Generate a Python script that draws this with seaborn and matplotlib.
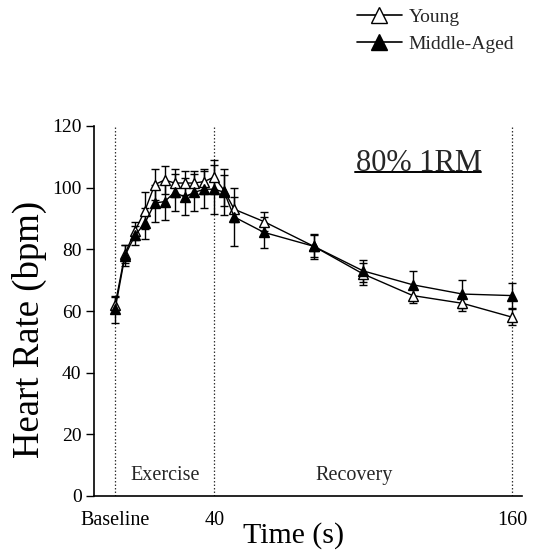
import matplotlib
matplotlib.use("Agg")
import matplotlib.pyplot as plt
from matplotlib.lines import Line2D
import seaborn as sns
import pandas as pd

# Sampling times (s): baseline, exercise every 4 s, then recovery
time_s = [0, 4, 8, 12, 16, 20, 24, 28, 32, 36, 40, 44, 48, 60, 80, 100, 120, 140, 160]

young_hr = [62, 78.5, 86, 92.5, 101, 102.5, 101.5, 101.5, 101.5, 102, 103.5,
            99, 93, 89, 81, 72, 65, 62.5, 58]
young_sd = [2.5, 3, 3, 6, 5, 4.5, 4.5, 4, 4, 4, 5.5,
            5, 4, 3, 3.5, 3.5, 2.5, 2.5, 2.5]

middle_hr = [60.5, 78, 84.5, 88.5, 95, 95.5, 98.5, 97, 98.5, 99.5, 99.5,
             98.5, 90.5, 85.5, 81, 73, 68.5, 65.5, 65]
middle_sd = [4.5, 3.5, 3, 5, 6, 6, 6, 6, 6, 6, 8,
             7.5, 9.5, 5, 4, 3.5, 4.5, 4.5, 4]

group_names = ["Young", "Middle-Aged"]
phase_names = ["Exercise", "Recovery"]
tick_values = [0, 40, 160]
tick_labels = ["Baseline", "40", "160"]
y_ticks = [0, 20, 40, 60, 80, 100, 120]

df = pd.DataFrame({
    "time": time_s * 2,
    "hr": young_hr + middle_hr,
    "sd": young_sd + middle_sd,
    "group": [group_names[0]] * len(time_s) + [group_names[1]] * len(time_s),
})

sns.set_style("ticks")
plt.rcParams["font.family"] = ["Liberation Serif", "DejaVu Serif"]

fig = plt.figure(figsize=(5.34, 5.58), dpi=100)
ax = fig.add_axes([94 / 534, 62 / 558, 428 / 534, 370 / 558])

# phase boundaries
for xv in tick_values:
    ax.axvline(xv, color="#333333", lw=0.9, ls=(0, (1.2, 1.6)), zorder=1)

# error bars
for name in group_names:
    sub = df[df["group"] == name]
    ax.errorbar(sub["time"], sub["hr"], yerr=sub["sd"], fmt="none",
                ecolor="black", elinewidth=1.0, capsize=3.2, capthick=1.0,
                zorder=2)

# mean curves
sns.lineplot(data=df[df["group"] == group_names[0]], x="time", y="hr",
             color="black", lw=1.0, marker="^", markersize=7,
             markerfacecolor="white", markeredgecolor="black",
             markeredgewidth=1.0, errorbar=None, ax=ax, zorder=3)
sns.lineplot(data=df[df["group"] == group_names[1]], x="time", y="hr",
             color="black", lw=1.0, marker="^", markersize=7,
             markerfacecolor="black", markeredgecolor="black",
             markeredgewidth=1.0, errorbar=None, ax=ax, zorder=4)

ax.set_xlim(-8.5, 164)
ax.set_ylim(0, 120)
ax.set_yticks(y_ticks)
ax.set_xticks(tick_values)
ax.set_xticklabels(tick_labels)
ax.tick_params(axis="x", length=0, pad=11, labelsize=14.5)
ax.tick_params(axis="y", length=6, width=1.0, pad=3, labelsize=14, direction="out")
for side in ["top", "right"]:
    ax.spines[side].set_visible(False)
for side in ["left", "bottom"]:
    ax.spines[side].set_linewidth(1.2)
    ax.spines[side].set_color("black")
ax.tick_params(colors="black")
ax.set_facecolor("white")

ax.set_xlabel("Time (s)", fontsize=21.5, color="black")
ax.xaxis.label.set_verticalalignment("center")
ax.xaxis.set_label_coords(0.467, -0.108)
ax.set_ylabel("Heart Rate (bpm)", fontsize=26.5, color="black")
ax.yaxis.label.set_verticalalignment("center")
ax.yaxis.set_label_coords(-0.150, 0.449)

ax.text(20, 6.5, phase_names[0], ha="center", va="center", fontsize=14.5)
ax.text(96.5, 6.5, phase_names[1], ha="center", va="center", fontsize=14.5)

ax.text(122.5, 107.8, "80% 1RM", ha="center", va="center", fontsize=22)
ax.plot([96.5, 147.5], [105.2, 105.2], color="black", lw=1.4, clip_on=False)

handles = [
    Line2D([], [], color="black", lw=1.2, marker="^", markersize=12,
           markerfacecolor="white", markeredgecolor="black"),
    Line2D([], [], color="black", lw=1.2, marker="^", markersize=12,
           markerfacecolor="black", markeredgecolor="black"),
]
fig.legend(handles, group_names, loc="upper left",
           bbox_to_anchor=(357 / 534, 1 - 8 / 558), frameon=False,
           fontsize=14, handlelength=2.3, handletextpad=0.35,
           labelspacing=0.5, borderpad=0, borderaxespad=0)

fig.savefig("out.png", dpi=100, facecolor="white")
